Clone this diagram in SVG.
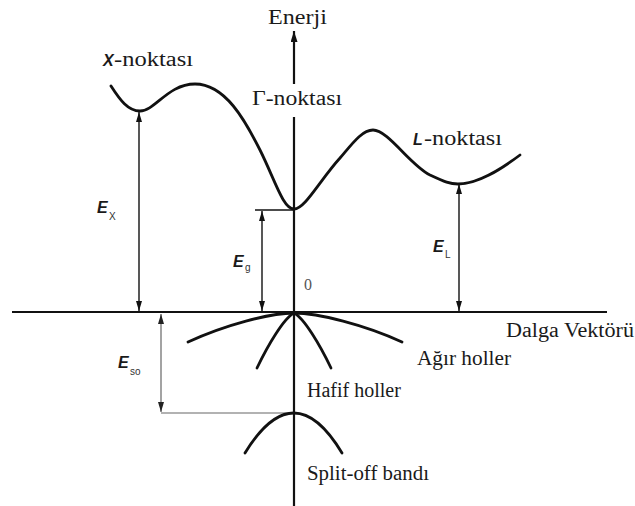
<svg xmlns="http://www.w3.org/2000/svg" width="635" height="506" viewBox="0 0 635 506">
<defs>
<style>
.ser{font-family:"Liberation Serif","Times New Roman",serif;font-size:20px;fill:#1a1a1a}
.lab{font-family:"Liberation Sans",Arial,sans-serif;font-weight:bold;font-style:italic;font-size:16px;fill:#1a1a1a}
.sub{font-family:"Liberation Sans",Arial,sans-serif;font-size:10px;fill:#333}
.axis{stroke:#111;stroke-width:2.2;fill:none}
.band{stroke:#111;stroke-width:2.8;fill:none;stroke-linecap:round}
.dim{stroke:#111;stroke-width:1.4;fill:none}
.dimg{stroke:#666;stroke-width:1.2;fill:none}
</style>
<marker id="ah" markerUnits="userSpaceOnUse" markerWidth="10" markerHeight="7" refX="10" refY="3" orient="auto-start-reverse">
<path d="M0,0 L10,3 L0,6 z" fill="#111"/>
</marker>
<marker id="ahg" markerUnits="userSpaceOnUse" markerWidth="10" markerHeight="7" refX="10" refY="3" orient="auto-start-reverse">
<path d="M0,0 L10,3 L0,6 z" fill="#222"/>
</marker>
<marker id="ax" markerUnits="userSpaceOnUse" markerWidth="12" markerHeight="8" refX="11" refY="3.5" orient="auto">
<path d="M0,0 L11,3.5 L0,7 z" fill="#111"/>
</marker>
</defs>
<rect width="635" height="506" fill="#fff"/>

<g id="connectors">
<line id="axis-e-top" class="axis" x1="294" y1="84" x2="294" y2="31" marker-end="url(#ax)"/>
<line id="axis-e-bottom" class="axis" x1="294" y1="117" x2="294" y2="506"/>
<line id="axis-k" class="axis" x1="12" y1="312" x2="607" y2="312"/>
<line id="ex-arrow" class="dim" x1="139" y1="112" x2="139" y2="311" marker-start="url(#ah)" marker-end="url(#ah)"/>
<line id="eg-tick" class="dim" x1="255" y1="210" x2="294" y2="210"/>
<line id="eg-arrow" class="dim" x1="262" y1="211" x2="262" y2="311" marker-start="url(#ah)" marker-end="url(#ah)"/>
<line id="el-arrow" class="dim" x1="459" y1="184" x2="459" y2="311" marker-start="url(#ah)" marker-end="url(#ah)"/>
<line id="eso-arrow" class="dimg" x1="161" y1="314" x2="161" y2="412" marker-start="url(#ahg)" marker-end="url(#ahg)"/>
<line id="eso-tick" class="dimg" x1="161" y1="413" x2="294" y2="413"/>
</g>

<g id="conduction-band">
<path class="band" d="M111,86 C120,100 128,111 140,111 C155,111 168,84 195,84 C225,84 245,120 260,150 C275,180 283,209 294,209 C305,209 320,180 340,158 C352,144 362,130 373,130 C388,130 410,165 430,175 C445,182 450,184 458,184 C478,184 500,170 520,155"/>
</g>
<g id="heavy-holes">
<path class="band" d="M188,342 C225,325 270,313 294,313 C318,313 365,325 402,342"/>
</g>
<g id="light-holes">
<path class="band" d="M257,368 C268,345 284,318 294,313 C304,318 320,345 331,368"/>
</g>
<g id="split-off">
<path class="band" d="M245,453 Q294,373 342,453"/>
</g>

<g id="label-energy"><text class="ser" x="268" y="24" textLength="59" lengthAdjust="spacingAndGlyphs">Enerji</text></g>
<g id="label-wave"><text class="ser" x="506" y="337" textLength="128" lengthAdjust="spacingAndGlyphs">Dalga Vektörü</text></g>
<g id="label-x"><text class="lab" x="103" y="66">X</text><text class="ser" x="114" y="66" textLength="79" lengthAdjust="spacingAndGlyphs">-noktası</text></g>
<g id="label-gamma"><text class="ser" x="252" y="105" textLength="90" lengthAdjust="spacingAndGlyphs">Γ-noktası</text></g>
<g id="label-l"><text class="lab" x="413" y="145">L</text><text class="ser" x="424" y="145" textLength="78" lengthAdjust="spacingAndGlyphs">-noktası</text></g>
<g id="label-zero"><text class="ser" x="304" y="290" style="font-size:16px;fill:#555">0</text></g>
<g id="label-ex"><text class="lab" x="97" y="213">E</text><text class="sub" x="109" y="220">X</text></g>
<g id="label-eg"><text class="lab" x="233" y="267">E</text><text class="sub" x="245" y="271">g</text></g>
<g id="label-el"><text class="lab" x="433" y="252">E</text><text class="sub" x="445" y="258">L</text></g>
<g id="label-eso"><text class="lab" x="118" y="368">E</text><text class="sub" x="130" y="375">so</text></g>
<g id="label-heavy"><text class="ser" x="417" y="365" textLength="94" lengthAdjust="spacingAndGlyphs">Ağır holler</text></g>
<g id="label-light"><text class="ser" x="307" y="397">Hafif holler</text></g>
<g id="label-so"><text class="ser" x="307" y="480" textLength="122" lengthAdjust="spacingAndGlyphs">Split-off bandı</text></g>
</svg>
